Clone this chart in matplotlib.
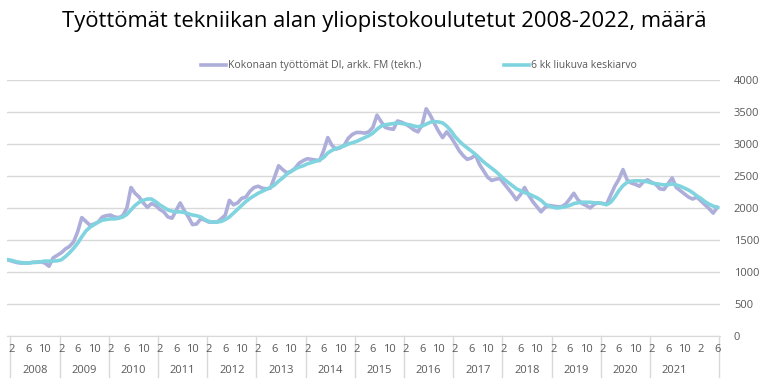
import matplotlib
matplotlib.use('Agg')
import matplotlib.pyplot as plt
import numpy as np

plt.rcParams['font.family'] = ['Open Sans', 'DejaVu Sans']

# kuukausittaiset arvot 1/2008 - 6/2022
vuodet = [str(v) for v in range(2008, 2022)]
kuukausi_labels = ['2', '6', '10']

tyottomat = [
    1190, 1170, 1150, 1140, 1140, 1140, 1150, 1150, 1160, 1140, 1090, 1220,   # 2008
    1260, 1300, 1360, 1400, 1470, 1630, 1850, 1790, 1730, 1750, 1780, 1860,   # 2009
    1880, 1890, 1860, 1850, 1880, 2000, 2320, 2230, 2170, 2080, 2010, 2070,   # 2010
    2040, 1980, 1940, 1860, 1840, 1960, 2080, 1960, 1860, 1740, 1750, 1830,   # 2011
    1810, 1780, 1780, 1780, 1830, 1890, 2120, 2050, 2080, 2150, 2170, 2260,   # 2012
    2320, 2340, 2310, 2300, 2310, 2480, 2660, 2600, 2550, 2570, 2620, 2700,   # 2013
    2740, 2770, 2760, 2750, 2740, 2900, 3100, 2980, 2920, 2940, 2980, 3090,   # 2014
    3150, 3180, 3180, 3170, 3190, 3260, 3450, 3350, 3260, 3240, 3230, 3360,   # 2015
    3340, 3310, 3270, 3220, 3190, 3300, 3550, 3450, 3320, 3200, 3100, 3190,   # 2016
    3110, 3010, 2900, 2820, 2760, 2780, 2830, 2680, 2580, 2480, 2430, 2450,   # 2017
    2460, 2380, 2300, 2220, 2130, 2210, 2320, 2200, 2100, 2020, 1940, 2010,   # 2018
    2040, 2030, 2020, 2020, 2060, 2140, 2230, 2130, 2070, 2040, 2000, 2060,   # 2019
    2080, 2070, 2060, 2200, 2340, 2450, 2600, 2440, 2390, 2370, 2340, 2410,   # 2020
    2440, 2400, 2370, 2300, 2290, 2380, 2470, 2320, 2270, 2220, 2170, 2140,   # 2021
    2170, 2110, 2050, 1990, 1920, 2010,                                       # 2022
]

liukuva = [
    1190, 1180, 1160, 1150, 1140, 1140, 1150, 1155, 1160, 1170, 1170, 1170,
    1175, 1190, 1240, 1300, 1370, 1450, 1550, 1640, 1700, 1740, 1780, 1810,
    1820, 1830, 1830, 1840, 1860, 1900, 1970, 2040, 2090, 2120, 2140, 2140,
    2100, 2050, 2010, 1970, 1950, 1940, 1940, 1930, 1910, 1890, 1880, 1860,
    1820, 1790, 1780, 1780, 1790, 1820, 1860, 1920, 1980, 2040, 2100, 2150,
    2190, 2230, 2260, 2290, 2320, 2360, 2420, 2470, 2530, 2570, 2610, 2640,
    2660, 2690, 2710, 2730, 2750, 2790, 2860, 2900, 2930, 2950, 2970, 3000,
    3020, 3040, 3070, 3100, 3130, 3170, 3230, 3280, 3300, 3310, 3320, 3330,
    3320, 3310, 3300, 3280, 3270, 3280, 3310, 3340, 3350, 3345, 3330, 3280,
    3210, 3120, 3050, 2990, 2940, 2890, 2840, 2780, 2720, 2670, 2620, 2570,
    2510, 2450, 2400, 2350, 2300, 2270, 2240, 2220, 2190, 2160, 2120, 2060,
    2030, 2010, 2000, 2010, 2020, 2040, 2070, 2080, 2090, 2090, 2090, 2080,
    2080, 2070, 2050, 2090, 2170, 2270, 2350, 2400, 2420, 2425, 2425, 2420,
    2410, 2390, 2380, 2370, 2360, 2365, 2375, 2360, 2340, 2310, 2280, 2240,
    2190, 2150, 2100, 2060, 2030, 2010,
]

harmaa = '#595959'
viiva = '#d9d9d9'

fig = plt.figure(figsize=(7.68, 3.92), dpi=100)
ax = fig.add_axes([7 / 768, 56 / 392, 713 / 768, 256 / 392])

x = np.arange(len(tyottomat))
ax.plot(x, tyottomat, color='#aeaedb', lw=2.6, solid_joinstyle='round',
        label='Kokonaan työttömät DI, arkk. FM (tekn.)')
ax.plot(x, liukuva, color='#7fd4df', lw=2.6, solid_joinstyle='round',
        label='6 kk liukuva keskiarvo')

ax.set_xlim(-0.24, 173.66)
ax.set_ylim(0, 4000)
ax.set_yticks(range(0, 4001, 500))
ax.yaxis.tick_right()
ax.tick_params(axis='y', length=0, pad=10, labelsize=8, labelcolor=harmaa)
for t in ax.get_yticklabels():
    t.set_ha('left')
ax.set_xticks([])
ax.grid(axis='y', color=viiva, lw=1)
ax.set_axisbelow(True)
for s in ['top', 'right', 'left']:
    ax.spines[s].set_visible(False)
ax.spines['bottom'].set_color(viiva)

# kuukausi- ja vuosiotsikot
tr = ax.get_xaxis_transform()
n = len(tyottomat)
for i in range(n):
    kk = i % 12 + 1
    if kk in (2, 6, 10):
        ax.text(i, -0.051, str(kk), transform=tr, ha='center', va='center',
                fontsize=8, color=harmaa)
for k, v in enumerate(vuodet):
    ax.text(12 * k + 6.6, -0.133, v, transform=tr, ha='center', va='center',
            fontsize=8, color=harmaa)
erottimet = [12 * k + 0.6 for k in range(len(vuodet))] + [173.5]
for e in erottimet:
    ax.plot([e, e], [0, -0.16], transform=tr, color=viiva, lw=1, clip_on=False)

fig.text(0.5, 0.946, 'Työttömät tekniikan alan yliopistokoulutetut 2008-2022, määrä',
         ha='center', va='center', fontsize=15.8, color='black')

fig.legend(loc='center', bbox_to_anchor=(419 / 768, 0.832), ncol=2, frameon=False,
           fontsize=7.5, handlelength=2.4, handletextpad=0.2, columnspacing=8,
           labelcolor=harmaa)

fig.savefig('out.png', dpi=100)
